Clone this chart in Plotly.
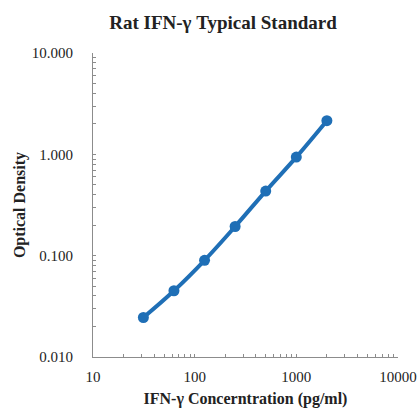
import plotly.graph_objects as go

conc = [31.25, 62.5, 125, 250, 500, 1000, 2000]
od = [0.0245, 0.045, 0.090, 0.194, 0.434, 0.94, 2.15]

x_tickvals = [10, 100, 1000, 10000]
x_ticktext = ["10", "100", "1000", "10000"]
y_tickvals = [0.01, 0.1, 1, 10]
y_ticktext = ["0.010", "0.100", "1.000", "10.000"]
x_minor = [m * 10 ** e for e in range(1, 4) for m in range(2, 10)]
y_minor = [m * 10.0 ** e for e in range(-2, 1) for m in range(2, 10)]

blue = "#1f6fb6"
font = "Liberation Serif, Times New Roman, serif"
grey = "#8c8c8c"

W, H = 417, 408

fig = go.Figure()
fig.add_trace(go.Scatter(
    x=conc, y=od, mode="lines+markers",
    line=dict(color=blue, width=4, shape="spline"),
    marker=dict(color=blue, size=11),
    showlegend=False, cliponaxis=False, hoverinfo="skip",
))

def axis(minor_vals):
    return dict(
        type="log", showgrid=False, zeroline=False, showline=True,
        linecolor=grey, linewidth=1,
        ticks="inside", ticklen=3, tickcolor=grey,
        minor=dict(tickmode="array", tickvals=minor_vals, ticks="inside",
                   ticklen=3, tickcolor=grey, showgrid=False),
        tickfont=dict(family=font, size=15, color="#222"),
        ticklabeloverflow="allow",
    )

fig.update_layout(
    width=W, height=H,
    margin=dict(l=93, r=19, t=53, b=51, autoexpand=False),
    paper_bgcolor="white", plot_bgcolor="white",
    title=dict(text="<b>Rat IFN-γ Typical Standard</b>", x=223/W, xanchor="center",
               y=1 - 22/H, yanchor="middle",
               font=dict(family=font, size=19, color="#222")),
    xaxis=dict(**axis(x_minor), range=[0.999, 4.001], tickvals=x_tickvals, ticktext=x_ticktext,
               ticklabelstandoff=6,
               title=dict(text="<b>IFN-γ Concerntration (pg/ml)</b>", standoff=8,
                          font=dict(family=font, size=16, color="#222"))),
    yaxis=dict(**axis(y_minor), range=[-2.001, 1.001], tickvals=y_tickvals, ticktext=y_ticktext,
               ticklabelstandoff=16,
               title=dict(text="<b>Optical Density</b>", standoff=2,
                          font=dict(family=font, size=16, color="#222"))),
)

fig.write_html(
    "out.html",
    config={"displayModeBar": False, "staticPlot": True},
    post_script="document.body.style.margin='0';document.body.style.overflow='hidden';",
)
